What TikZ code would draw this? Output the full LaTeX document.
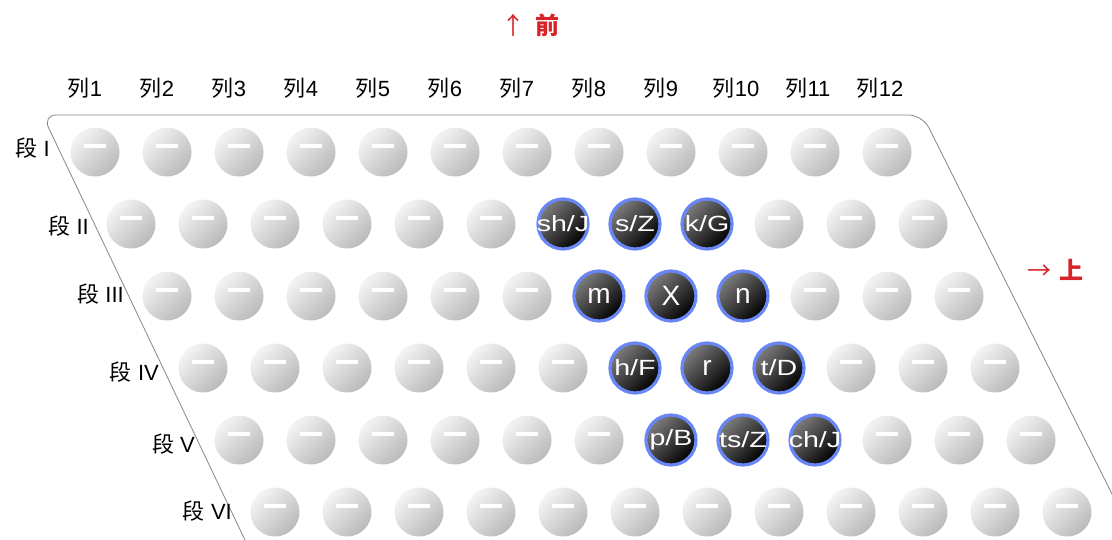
\documentclass[tikz,border=0pt]{standalone}
\usepackage{fontspec}
\usepackage{graphicx}
\setmainfont{Liberation Sans}
\newfontfamily\cjk{Noto Sans CJK SC}
\definecolor{ringblue}{RGB}{104,134,246}
\definecolor{redlab}{RGB}{214,36,42}
\definecolor{framegray}{RGB}{135,135,135}
\definecolor{keylight}{RGB}{244,244,244}
\definecolor{keydark}{RGB}{186,186,186}
\definecolor{darklight}{RGB}{125,125,125}
\newcommand{\widelab}[1]{\makebox[0pt][c]{\scalebox{1.3}[1]{\fontsize{22}{24}\selectfont #1}}}
\newcommand{\singlelab}[1]{\makebox[0pt][c]{\fontsize{28}{30}\selectfont #1}}
\begin{document}
\begin{tikzpicture}[x=1pt,y=-1pt,
  greykey/.style={circle,minimum size=49pt,inner sep=0pt,
    top color=keylight,bottom color=keydark,shading angle=45,
    path picture={\fill[white] ([xshift=-11pt,yshift=4.5pt]path picture bounding box.center) rectangle ++(22pt,4pt);}},
  darkkey/.style={circle,minimum size=50pt,inner sep=0pt,draw=ringblue,line width=3.2pt,
    top color=darklight,bottom color=black,shading angle=45,text=white},
  collab/.style={font=\fontsize{22}{26}\selectfont,inner sep=0pt},
  rowlab/.style={font=\fontsize{22}{26}\selectfont,inner sep=0pt,anchor=east},
  redtxt/.style={text=redlab,font=\fontsize{24}{28}\selectfont,inner sep=0pt}
]
\useasboundingbox (0,0) rectangle (1112,539);
\begin{scope}
\clip (0,0) rectangle (1112,539);
\draw[framegray,line width=0.8pt,rounded corners=14pt]
  (254.5,560) -- (42.5,115) -- (922.5,115) -- (1134.5,539);
\end{scope}
% grey keys
\foreach \r in {0,...,5}{
  \foreach \c in {0,...,11}{
    \pgfmathsetmacro\xx{95+36*\r+72*\c}
    \pgfmathsetmacro\yy{152+72*\r}
    \pgfmathtruncatemacro\isdark{and(\r>0,\r<5)*and(\c>5,\c<9)}
    \ifnum\isdark=0
      \node[greykey] (k-\r-\c) at (\xx,\yy) {};
    \fi
  }
}
% dark keys
\node[darkkey] (k-1-6) at (563,224) {\widelab{sh/J}};
\node[darkkey] (k-1-7) at (635,224) {\widelab{s/Z}};
\node[darkkey] (k-1-8) at (707,224) {\widelab{k/G}};
\node[darkkey] (k-2-6) at (599,296) {\singlelab{m}};
\node[darkkey] (k-2-7) at (671,296) {\singlelab{X}};
\node[darkkey] (k-2-8) at (743,296) {\singlelab{n}};
\node[darkkey] (k-3-6) at (635,368) {\widelab{h/F}};
\node[darkkey] (k-3-7) at (707,368) {\singlelab{r}};
\node[darkkey] (k-3-8) at (779,368) {\widelab{t/D}};
\node[darkkey] (k-4-6) at (671,440) {\widelab{p/B}};
\node[darkkey] (k-4-7) at (743,440) {\widelab{ts/Z}};
\node[darkkey] (k-4-8) at (815,440) {\widelab{ch/J}};
% column labels
\node[collab] (col1) at (85,88) {{\cjk 列}1};
\node[collab] (col2) at (157,88) {{\cjk 列}2};
\node[collab] (col3) at (229,88) {{\cjk 列}3};
\node[collab] (col4) at (301,88) {{\cjk 列}4};
\node[collab] (col5) at (373,88) {{\cjk 列}5};
\node[collab] (col6) at (445,88) {{\cjk 列}6};
\node[collab] (col7) at (517,88) {{\cjk 列}7};
\node[collab] (col8) at (589,88) {{\cjk 列}8};
\node[collab] (col9) at (661,88) {{\cjk 列}9};
\node[collab] (col10) at (736,88) {{\cjk 列}10};
\node[collab] (col11) at (808,88) {{\cjk 列}11};
\node[collab] (col12) at (880,88) {{\cjk 列}12};
% row labels
\node[rowlab] (row1) at (50,148) {{\cjk 段} I};
\node[rowlab] (row2) at (89,226) {{\cjk 段} II};
\node[rowlab] (row3) at (124,294) {{\cjk 段} III};
\node[rowlab] (row4) at (159,372) {{\cjk 段} IV};
\node[rowlab] (row5) at (195,444) {{\cjk 段} V};
\node[rowlab] (row6) at (232,511) {{\cjk 段} VI};
% direction labels
\node[redtxt] (front) at (530,25) {{\cjk ↑}\hspace{10pt}{\cjk\bfseries 前}};
\node[redtxt] (up) at (1055,270) {{\cjk →}\hspace{8pt}{\cjk\bfseries 上}};
\end{tikzpicture}
\end{document}
